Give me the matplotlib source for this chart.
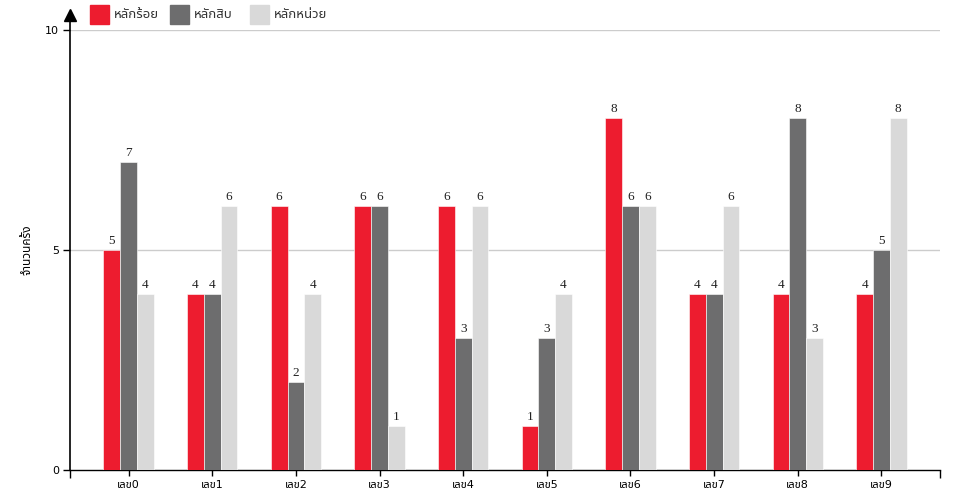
import matplotlib
matplotlib.use("Agg")
import matplotlib.pyplot as plt
import numpy as np

categories = ["เลข0", "เลข1", "เลข2", "เลข3", "เลข4", "เลข5", "เลข6", "เลข7", "เลข8", "เลข9"]
series_names = ["หลักร้อย", "หลักสิบ", "หลักหน่วย"]
hundreds = [5, 4, 6, 6, 6, 1, 8, 4, 4, 4]
tens = [7, 4, 2, 6, 3, 3, 6, 4, 8, 5]
units = [4, 6, 4, 1, 6, 4, 6, 6, 3, 8]
colors = ["#ED1C2F", "#6D6D6E", "#D9D9D9"]
y_ticks = [0, 5, 10]
y_label = "จำนวนครั้ง"

plt.rcParams['font.family'] = ['DejaVu Sans', 'Noto Sans Thai']

fig = plt.figure(figsize=(9.6, 5), dpi=100)
ax = fig.add_axes([70/960, 30/500, 870/960, 440/500])

x = np.arange(len(categories))
w = 0.2
for i, (vals, c) in enumerate(zip([hundreds, tens, units], colors)):
    pos = x + (i - 1) * w
    ax.bar(pos, vals, width=w, color=c, edgecolor='white', linewidth=0.4, zorder=3)
    for px, v in zip(pos, vals):
        ax.annotate(str(v), (px, v), xytext=(0, 2.5), textcoords='offset points',
                    ha='center', va='bottom', fontsize=9.5, family='Liberation Serif',
                    color='#222222', zorder=4)

ax.set_xlim(-0.7, 9.7)
ax.set_ylim(0, 10)
ax.set_yticks(y_ticks)
ax.tick_params(axis='y', length=5, width=1, labelsize=8, pad=3, color='black')
ax.set_xticks(x)
ax.set_xticklabels(categories, fontsize=8)
ax.tick_params(axis='x', length=4, width=1, pad=3)
ax.set_xticks([-0.7, 9.7], minor=True)
ax.tick_params(axis='x', which='minor', length=6, width=1)

for yv in [5, 10]:
    ax.axhline(yv, color='#CCCCCC', linewidth=1, zorder=1)

for s in ['top', 'right', 'left']:
    ax.spines[s].set_visible(False)
ax.spines['bottom'].set_linewidth(1)

# extended y axis with arrow
ax.plot([0, 0], [0, 1.03], transform=ax.transAxes, color='black', linewidth=1.2,
        clip_on=False, zorder=5)
ax.plot([0], [1.034], transform=ax.transAxes, marker='^', markersize=9,
        color='black', clip_on=False, zorder=6)

ax.set_ylabel(y_label, fontsize=8.5, labelpad=8)

# legend
for i, (name, c) in enumerate(zip(series_names, colors)):
    x0 = 90 + i * 80
    fig.patches.append(plt.Rectangle((x0/960, 1 - 24/500), 19/960, 19/500,
                                     transform=fig.transFigure, color=c))
    fig.text((x0 + 24)/960, 1 - 14.5/500, name, fontsize=9.5, va='center', ha='left',
             color='#333333')

fig.savefig("out.png")
